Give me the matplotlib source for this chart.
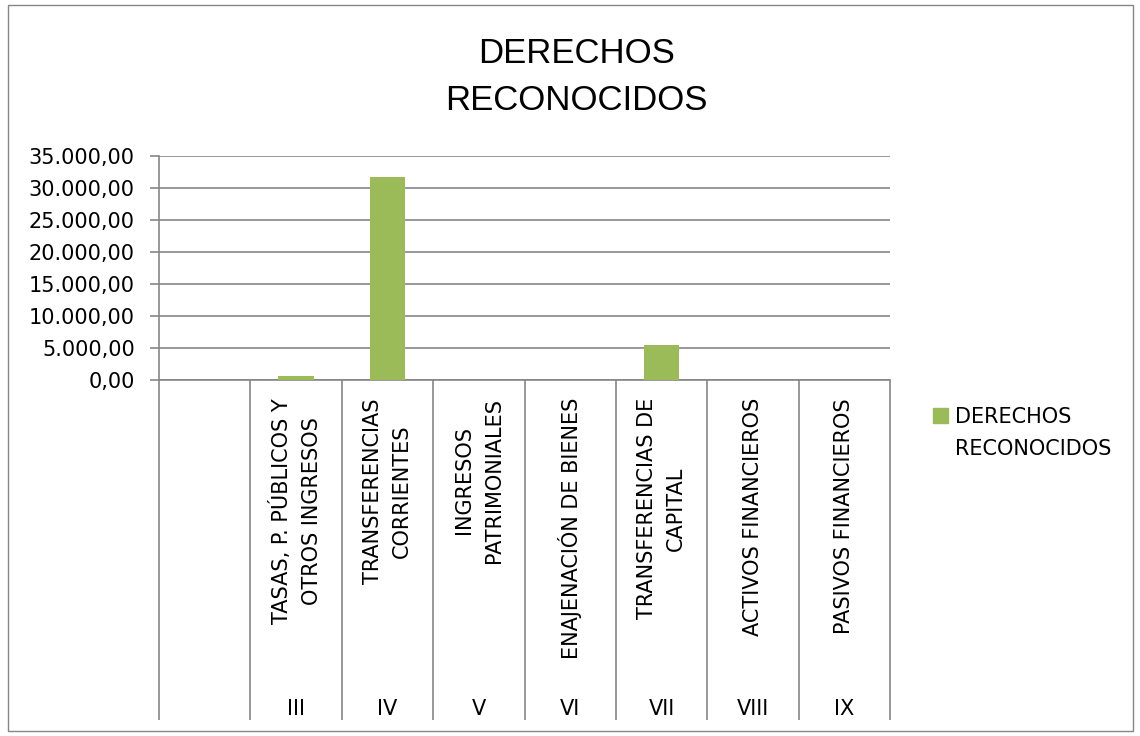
import matplotlib.pyplot as plt
from matplotlib.patches import Rectangle
from matplotlib.ticker import FuncFormatter

plt.rcParams['font.family'] = ['DejaVu Sans']

capitulos = ['', 'III', 'IV', 'V', 'VI', 'VII', 'VIII', 'IX']
conceptos = [
    '',
    'TASAS, P. PÚBLICOS Y\nOTROS INGRESOS',
    'TRANSFERENCIAS\nCORRIENTES',
    'INGRESOS\nPATRIMONIALES',
    'ENAJENACIÓN DE BIENES',
    'TRANSFERENCIAS DE\nCAPITAL',
    'ACTIVOS FINANCIEROS',
    'PASIVOS FINANCIEROS',
]
derechos = [0, 700, 31650, 0, 0, 5480, 0, 0]
serie = 'DERECHOS\nRECONOCIDOS'

green = '#9BBB59'
grid_gray = '#868686'

fig = plt.figure(figsize=(11.4, 7.36), dpi=100)
ax = fig.add_axes([159 / 1140, 1 - 380 / 736, 731 / 1140, 224 / 736])

x = list(range(len(capitulos)))
ax.bar(x, derechos, width=0.39, color=green, zorder=3)

ax.set_xlim(-0.5, len(capitulos) - 0.5)
ax.set_ylim(0, 35000)
ax.set_yticks(range(0, 35001, 5000))
ax.yaxis.set_major_formatter(FuncFormatter(
    lambda v, p: f'{v:,.2f}'.replace(',', 'X').replace('.', ',').replace('X', '.')))
ax.tick_params(axis='y', length=6.5, color=grid_gray, width=1.2, labelsize=15, pad=11)
ax.grid(axis='y', color=grid_gray, linewidth=1.2, zorder=0)

for s in ['top', 'right']:
    ax.spines[s].set_visible(False)
for s in ['left', 'bottom']:
    ax.spines[s].set_color(grid_gray)
    ax.spines[s].set_linewidth(1.2)

# category separators hanging below the axis
ax.set_xticks([b - 0.5 for b in range(len(capitulos) + 1)], minor=True)
ax.tick_params(axis='x', which='minor', length=245, color=grid_gray, width=1.2)
ax.set_xticks(x)
ax.set_xticklabels([])
ax.tick_params(axis='x', which='major', length=0)

trans = ax.get_xaxis_transform()
y_top = -18 / 224
y_num = -329 / 224
for i in x:
    ax.text(i, y_top, conceptos[i], rotation=90, ha='center', va='top',
            multialignment='center', fontsize=15, transform=trans, linespacing=1.6)
    ax.text(i, y_num, capitulos[i], ha='center', va='center', fontsize=15,
            transform=trans)

fig.text(0.506, 1 - 77 / 736, serie, ha='center', va='center',
         fontsize=25, family='Liberation Sans', linespacing=1.52)

# legend (Excel style: square next to the first line)
fig.patches.append(Rectangle((933 / 1140, 1 - 423 / 736), 15 / 1140, 15 / 736,
                             transform=fig.transFigure, color=green))
fig.text(955 / 1140, 1 - 407 / 736, serie, ha='left', va='top', fontsize=15,
         linespacing=1.76)

fig.patches.append(Rectangle((8 / 1140, 5 / 736), 1125 / 1140, 726 / 736,
                             transform=fig.transFigure, fill=False,
                             edgecolor=grid_gray, linewidth=1))

fig.savefig('out.png', dpi=100)
